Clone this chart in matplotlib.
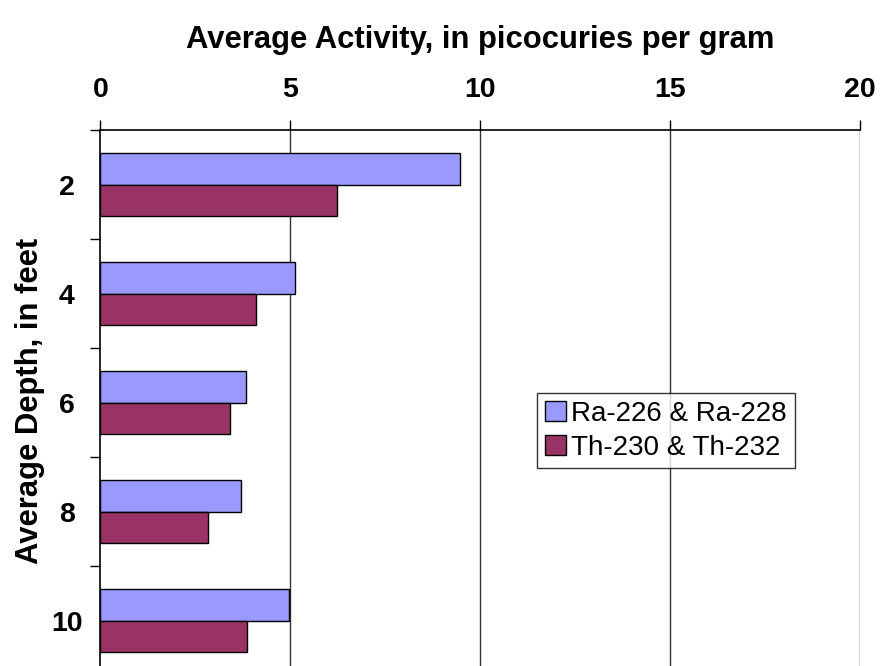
import numpy as np
import matplotlib
matplotlib.use('Agg')
import matplotlib.pyplot as plt

# Depth categories and average activities (pCi/g)
depths = ['2', '4', '6', '8', '10']
ra_values = [9.47, 5.12, 3.83, 3.71, 4.96]
th_values = [6.24, 4.09, 3.40, 2.84, 3.85]
series_labels = ['Ra-226 & Ra-228', 'Th-230 & Th-232']
x_ticks = [0, 5, 10, 15, 20]

plt.rcParams['font.family'] = ['Liberation Sans', 'DejaVu Sans']

fig = plt.figure(figsize=(8.84, 6.66), dpi=100)
# plot area runs past the bottom of the picture, as in the original
ax = fig.add_axes([100.3 / 884, 1 - 675 / 666, 760 / 884, 544.7 / 666])

y = np.arange(len(depths))
h = 0.289
ax.barh(y - h / 2, ra_values, height=h, color='#9999FF', edgecolor='black',
        linewidth=1.0, label=series_labels[0], zorder=3)
ax.barh(y + h / 2, th_values, height=h, color='#993366', edgecolor='black',
        linewidth=1.0, label=series_labels[1], zorder=3)

ax.set_xlim(0, 20)
ax.set_ylim(len(depths) - 0.5, -0.5)

# x axis on top
ax.xaxis.tick_top()
ax.xaxis.set_label_position('top')
ax.set_xticks(x_ticks)
ax.set_xticklabels([str(v) for v in x_ticks], fontsize=20.5, fontweight='bold')
ax.tick_params(axis='x', direction='out', length=7.5, width=1, pad=12, colors='black')
for xv in x_ticks[1:]:
    ax.axvline(xv, color='#333333', linewidth=1.0, zorder=1)

# y ticks at category boundaries, labels at centres
ax.set_yticks(np.arange(-0.5, len(depths), 1.0))
ax.set_yticklabels([])
ax.set_yticks(y, minor=True)
ax.set_yticklabels(depths, minor=True, fontsize=20.5, fontweight='bold', ha='center')
ax.tick_params(axis='y', which='major', direction='out', length=7.5, width=1)
ax.tick_params(axis='y', which='minor', length=0, pad=24)

ax.spines['right'].set_visible(False)
ax.spines['bottom'].set_visible(False)
ax.spines['left'].set_linewidth(1.2)
ax.spines['top'].set_linewidth(1.2)

ax.set_xlabel('Average Activity, in picocuries per gram', fontsize=22.3,
              fontweight='bold', labelpad=21)
fig.text(30 / 884, 1 - 401 / 666, 'Average Depth, in feet', fontsize=22.3,
         fontweight='bold', rotation=90, ha='center', va='center')

leg = ax.legend(loc='upper left', bbox_to_anchor=(537 / 884, 1 - 393 / 666),
                bbox_transform=fig.transFigure, fontsize=20, frameon=True,
                fancybox=False, borderaxespad=0, handlelength=0.75,
                handleheight=0.75, handletextpad=0.2, borderpad=0.28,
                labelspacing=0.28)
leg.get_frame().set_edgecolor('black')
leg.get_frame().set_linewidth(1.0)

fig.savefig('out.png', dpi=100)
